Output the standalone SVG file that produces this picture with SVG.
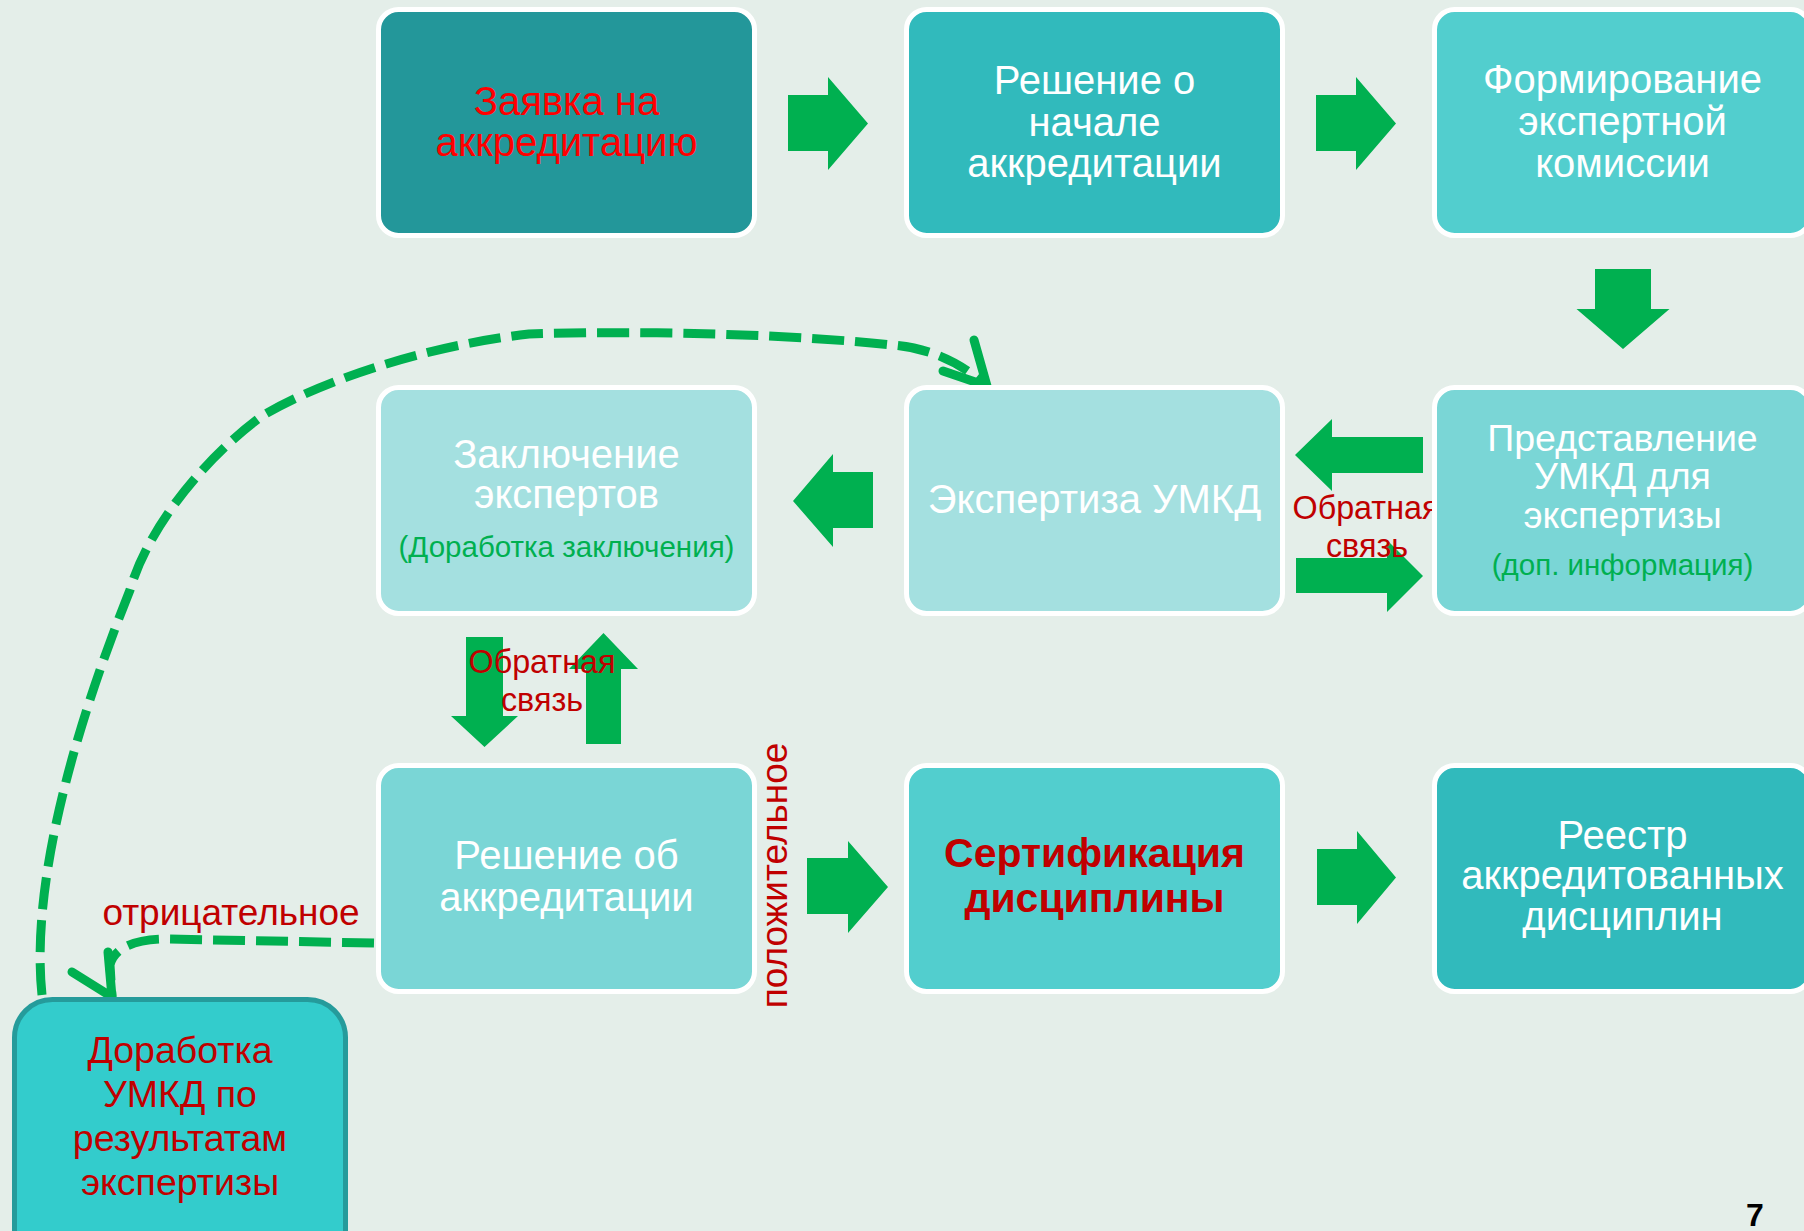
<svg xmlns="http://www.w3.org/2000/svg" width="1804" height="1231" viewBox="0 0 1804 1231">
<defs>
<style>
.box{stroke:#FFFFFF;stroke-width:5}
.t{font-family:"Liberation Sans",Arial,sans-serif;font-size:40px;fill:#FFFFFF;text-anchor:middle}
.r{fill:#C00000}
.g{fill:#00B050;font-size:29.5px}
.arr{fill:#00B050}
.dash{fill:none;stroke:#00B050;stroke-width:9;stroke-dasharray:32 11}
.head{fill:none;stroke:#00B050;stroke-width:9;stroke-linecap:round;stroke-linejoin:round}
.lbl{font-family:"Liberation Sans",Arial,sans-serif;font-size:32.3px;fill:#C00000;text-anchor:middle}
</style>
</defs>
<rect x="0" y="0" width="1804" height="1231" fill="#E4EEE9"/>

<g id="connectors">
  <polygon class="arr" points="788,95 828,95 828,77 868,123.5 828,170 828,151 788,151"/>
  <polygon class="arr" points="1316,95 1356,95 1356,77 1396,123.5 1356,170 1356,151 1316,151"/>
  <polygon class="arr" points="1595,269 1651,269 1651,309 1669.5,309 1623,349 1576.5,309 1595,309"/>
  <polygon class="arr" points="1423,437 1332,437 1332,419 1295,455 1332,491 1332,473 1423,473"/>
  <polygon class="arr" points="1296,558 1387,558 1387,540 1423,576 1387,612 1387,593 1296,593"/>
  <polygon class="arr" points="873,472 833,472 833,454 793,501 833,547 833,528 873,528"/>
  <polygon class="arr" points="466,637 503,637 503,716 518,716 484.5,747 451,716 466,716"/>
  <polygon class="arr" points="586,744 621,744 621,669 638,669 603.5,633 569,669 586,669"/>
  <polygon class="arr" points="807,858 848,858 848,841 888,887 848,933 848,914 807,914"/>
  <polygon class="arr" points="1317,849 1357,849 1357,831 1396,877.5 1357,924 1357,905 1317,905"/>
  <path class="dash" d="M42,995 C32,900 62,760 130,590 C147,530 202,460 262,416 C322,380 430,345 529,334 C650,330 800,335 892,345 C930,348 960,362 987,386"/>
  <polyline class="head" points="974,340 987,386 943,371"/>
  <path class="dash" d="M374,943 L165,939 C135,939 114,948 110,965 L112,997"/>
  <polyline class="head" points="72,972 112,997 108,952"/>
  <text class="lbl" x="1366" y="519">Обратная</text>
  <text class="lbl" x="1367" y="557">связь</text>
  <text class="lbl" x="542" y="673">Обратная</text>
  <text class="lbl" x="542" y="711">связь</text>
  <text class="lbl" x="231" y="925" style="font-size:37px">отрицательное</text>
  <text class="lbl" transform="translate(787,875.5) rotate(-90)" x="0" y="0" style="font-size:37px">положительное</text>
</g>

<g id="n1">
  <rect class="box" x="378.5" y="9.5" width="376" height="226" rx="20" fill="#23979A"/>
  <text class="t" x="566.5" y="115" style="fill:#FF0000">Заявка на</text>
  <text class="t" x="566.5" y="156" style="fill:#FF0000">аккредитацию</text>
</g>
<g id="n2">
  <rect class="box" x="906.5" y="9.5" width="376" height="226" rx="20" fill="#31BABC"/>
  <text class="t" x="1094.5" y="94">Решение о</text>
  <text class="t" x="1094.5" y="136">начале</text>
  <text class="t" x="1094.5" y="177">аккредитации</text>
</g>
<g id="n3">
  <rect class="box" x="1434.5" y="9.5" width="376" height="226" rx="20" fill="#52CECE"/>
  <text class="t" x="1622.5" y="93">Формирование</text>
  <text class="t" x="1622.5" y="135">экспертной</text>
  <text class="t" x="1622.5" y="177">комиссии</text>
</g>
<g id="n4">
  <rect class="box" x="378.5" y="387.5" width="376" height="226" rx="20" fill="#A4E0E0"/>
  <text class="t" x="566.5" y="468">Заключение</text>
  <text class="t" x="566.5" y="508">экспертов</text>
  <text class="t g" x="566.5" y="557">(Доработка заключения)</text>
</g>
<g id="n5">
  <rect class="box" x="906.5" y="387.5" width="376" height="226" rx="20" fill="#A4E0E0"/>
  <text class="t" x="1094.5" y="513">Экспертиза УМКД</text>
</g>
<g id="n6">
  <rect class="box" x="1434.5" y="387.5" width="376" height="226" rx="20" fill="#7AD6D6"/>
  <text class="t" x="1622.5" y="451" style="font-size:37.5px">Представление</text>
  <text class="t" x="1622.5" y="489" style="font-size:37.5px">УМКД для</text>
  <text class="t" x="1622.5" y="528" style="font-size:37.5px">экспертизы</text>
  <text class="t g" x="1622.5" y="575">(доп. информация)</text>
</g>
<g id="n7">
  <rect class="box" x="378.5" y="765.5" width="376" height="226" rx="20" fill="#7AD6D6"/>
  <text class="t" x="566.5" y="869">Решение об</text>
  <text class="t" x="566.5" y="911">аккредитации</text>
</g>
<g id="n8">
  <rect class="box" x="906.5" y="765.5" width="376" height="226" rx="20" fill="#52CECE"/>
  <text class="t r" x="1094.5" y="867" style="font-weight:bold;font-size:41px">Сертификация</text>
  <text class="t r" x="1094.5" y="912" style="font-weight:bold;font-size:41px">дисциплины</text>
</g>
<g id="n9">
  <rect class="box" x="1434.5" y="765.5" width="376" height="226" rx="20" fill="#31BABC"/>
  <text class="t" x="1622.5" y="849">Реестр</text>
  <text class="t" x="1622.5" y="889">аккредитованных</text>
  <text class="t" x="1622.5" y="930">дисциплин</text>
</g>
<g id="n10">
  <rect x="14.5" y="999.5" width="331" height="270" rx="38" fill="#33CCCC" stroke="#259B9B" stroke-width="5"/>
  <text class="t r" x="180" y="1063" style="font-size:37.5px">Доработка</text>
  <text class="t r" x="180" y="1107" style="font-size:37.5px">УМКД по</text>
  <text class="t r" x="180" y="1151" style="font-size:37.5px">результатам</text>
  <text class="t r" x="180" y="1195" style="font-size:37.5px">экспертизы</text>
</g>
<text x="1755" y="1226" style="font-family:'Liberation Sans',Arial,sans-serif;font-size:32px;font-weight:bold;fill:#000000;text-anchor:middle">7</text>
</svg>
